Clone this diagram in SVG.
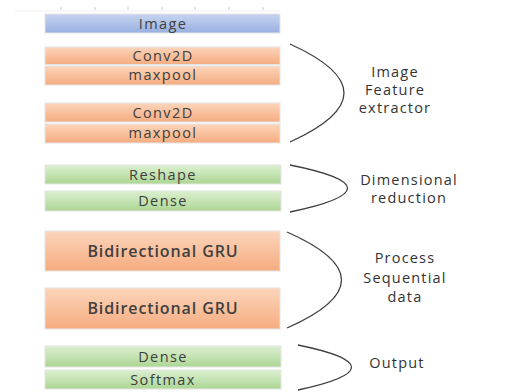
<svg xmlns="http://www.w3.org/2000/svg" width="507" height="392" viewBox="0 0 507 392">
<defs>
<linearGradient id="gBlue" x1="0" y1="0" x2="0" y2="1"><stop offset="0" stop-color="#c6d4f0"/><stop offset="1" stop-color="#98b0e0"/></linearGradient>
<linearGradient id="gOrange" x1="0" y1="0" x2="0" y2="1"><stop offset="0" stop-color="#fbd5bb"/><stop offset="1" stop-color="#f6ac80"/></linearGradient>
<linearGradient id="gGreen" x1="0" y1="0" x2="0" y2="1"><stop offset="0" stop-color="#dcf0d0"/><stop offset="1" stop-color="#acd694"/></linearGradient>
</defs>
<style>
.box{stroke:#e4e4e4;stroke-width:1}
.b{fill:url(#gBlue)}
.o{fill:url(#gOrange)}
.g{fill:url(#gGreen)}
.t{font-family:"Open Sans","Liberation Sans",sans-serif;font-size:14.5px;fill:#404040;text-anchor:middle;letter-spacing:1.4px}
.tb{font-weight:600;font-size:16px;letter-spacing:0.9px}
.lab{font-family:"Open Sans","Liberation Sans",sans-serif;font-size:14.5px;fill:#333;text-anchor:middle;letter-spacing:1.2px}
.arc{fill:none;stroke:#404040;stroke-width:1.3}
.tick{stroke:#c8c8c8;stroke-width:1}
</style>
<rect width="507" height="392" fill="#ffffff"/>
<g id="ruler">
<line x1="15" y1="11" x2="280" y2="11" stroke="#f0f0f0" stroke-width="1"/>
<g class="tick">
<line x1="61" y1="7" x2="61" y2="10"/><line x1="95" y1="7" x2="95" y2="10"/><line x1="128" y1="7" x2="128" y2="10"/><line x1="162" y1="7" x2="162" y2="10"/><line x1="195" y1="7" x2="195" y2="10"/><line x1="229" y1="7" x2="229" y2="10"/><line x1="263" y1="7" x2="263" y2="10"/>
</g>
</g>
<g id="n-image"><rect class="box b" x="45" y="14" width="235" height="19"/><text class="t" x="163" y="29">Image</text></g>
<g id="n-conv1"><rect class="box o" x="45" y="47" width="235" height="17.5"/><text class="t" x="163" y="61">Conv2D</text></g>
<g id="n-pool1"><rect class="box o" x="45" y="66" width="235" height="19"/><text class="t" x="163" y="80">maxpool</text></g>
<g id="n-conv2"><rect class="box o" x="45" y="103" width="235" height="19"/><text class="t" x="163" y="117.5">Conv2D</text></g>
<g id="n-pool2"><rect class="box o" x="45" y="124" width="235" height="19"/><text class="t" x="163" y="138">maxpool</text></g>
<g id="n-reshape"><rect class="box g" x="45" y="165" width="236" height="19"/><text class="t" x="163" y="179.5">Reshape</text></g>
<g id="n-dense1"><rect class="box g" x="45" y="191" width="236" height="20"/><text class="t" x="163" y="206">Dense</text></g>
<g id="n-gru1"><rect class="box o" x="45" y="231" width="235" height="40"/><text class="t tb" x="163" y="257">Bidirectional GRU</text></g>
<g id="n-gru2"><rect class="box o" x="45" y="288" width="235" height="41"/><text class="t tb" x="163" y="314">Bidirectional GRU</text></g>
<g id="n-dense2"><rect class="box g" x="45" y="346" width="236" height="21"/><text class="t" x="163" y="361.5">Dense</text></g>
<g id="n-softmax"><rect class="box g" x="45" y="370" width="236" height="19"/><text class="t" x="163" y="384.5">Softmax</text></g>
<g id="connectors">
<path class="arc" d="M290,44 Q398,93 290,142"/>
<path class="arc" d="M290,165 Q405,188 290,212"/>
<path class="arc" d="M287,232 Q396,280 287,328"/>
<path class="arc" d="M298,345 Q405,367 298,390"/>
</g>
<g id="labels">
<text class="lab" x="395" y="77">Image</text>
<text class="lab" x="395" y="95">Feature</text>
<text class="lab" x="395" y="113">extractor</text>
<text class="lab" x="409" y="185">Dimensional</text>
<text class="lab" x="409" y="203">reduction</text>
<text class="lab" x="405" y="263">Process</text>
<text class="lab" x="405" y="283">Sequential</text>
<text class="lab" x="405" y="302">data</text>
<text class="lab" x="397" y="368">Output</text>
</g>
</svg>
